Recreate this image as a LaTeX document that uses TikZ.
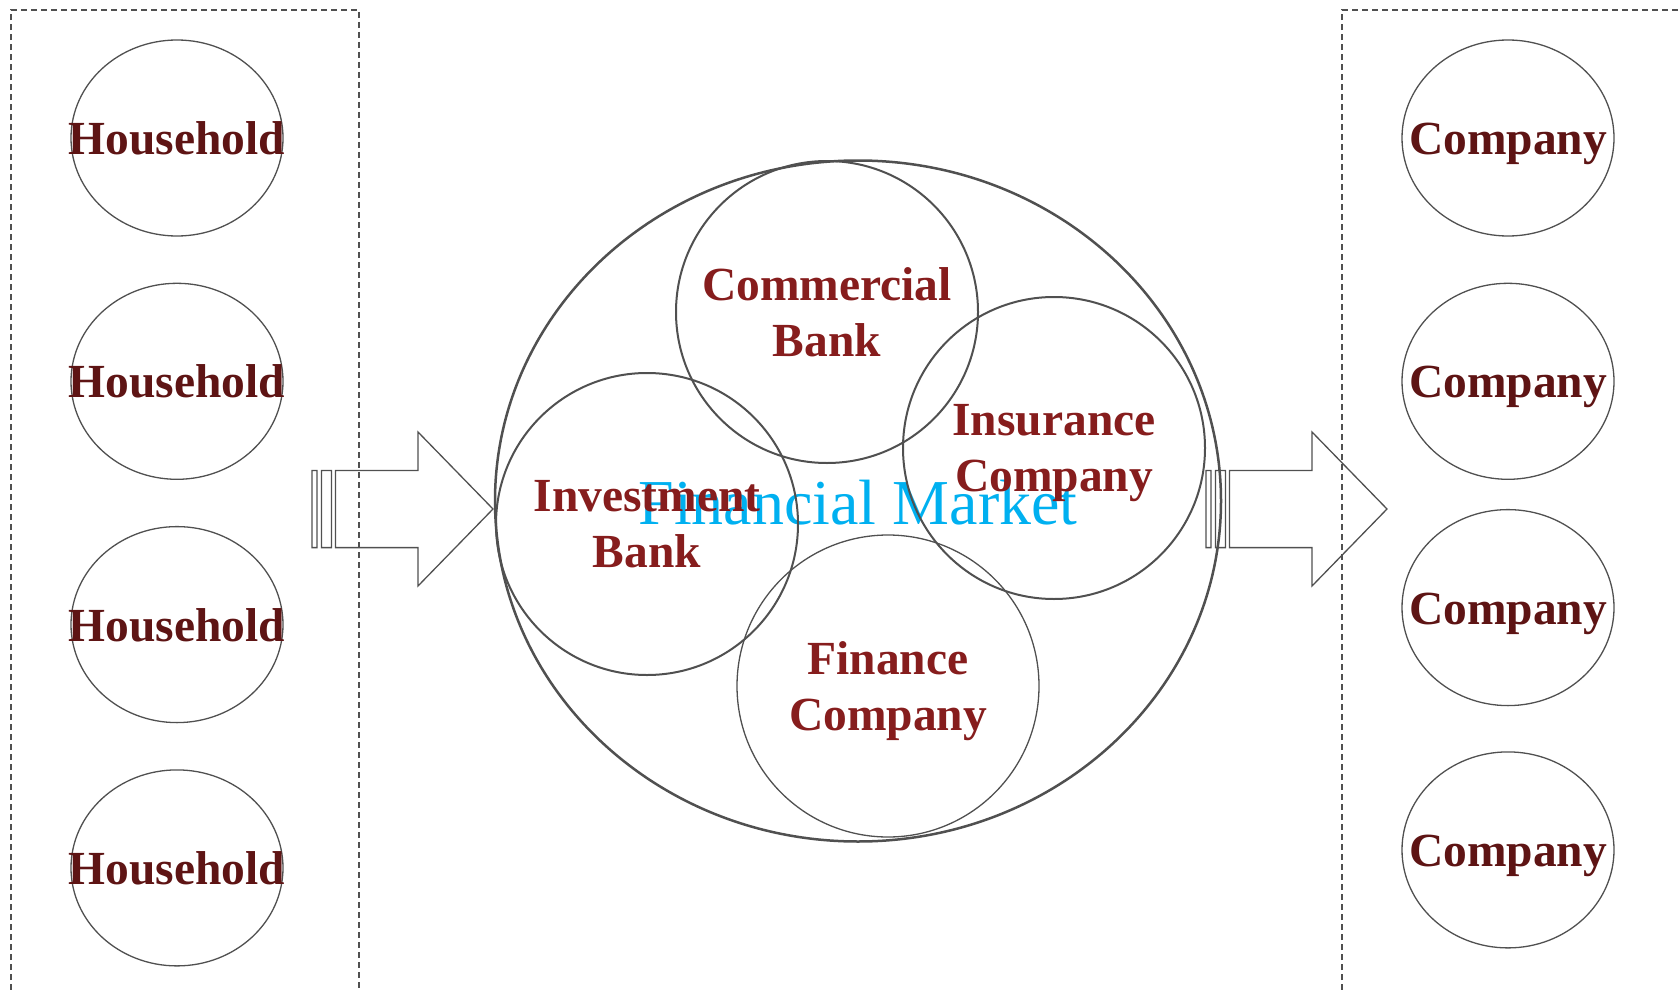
\documentclass[tikz,border=0pt]{standalone}
\usepackage{fontspec}
\setmainfont{Liberation Serif}
\usetikzlibrary{positioning,shapes.geometric}
\definecolor{edge}{HTML}{505050}
\definecolor{agentred}{HTML}{5E1414}
\definecolor{bankred}{HTML}{861D1D}
\definecolor{market}{HTML}{00B0F0}

\begin{document}
\begin{tikzpicture}[x=1pt, y=-1pt,
  party/.style={draw=edge, line width=1.3pt, ellipse, minimum width=212pt, minimum height=196pt, inner sep=0pt},
  partytext/.style={text=agentred, font=\fontsize{47.5}{56}\selectfont\bfseries, text height=33pt, text depth=0pt, inner sep=0pt},
  household/.style={party, label={[partytext]center:Household}},
  company/.style={party, label={[partytext]center:Company}},
  bank/.style={draw=edge, line width=2pt, circle, minimum size=302pt, inner sep=0pt, align=center, text depth=0pt, text=bankred, font=\fontsize{47.5}{56}\selectfont\bfseries},
  group/.style={draw=edge, line width=1.3pt, dash pattern=on 6pt off 4pt},
  blockarrow/.pic={
    \draw[edge, line width=1.3pt] (-181,-38.6) rectangle (-176,38.6) (-171.5,-38.6) rectangle (-161.5,38.6)
      (-157.5,-38.6) -- (-75,-38.6) -- (-75,-77) -- (0,0) -- (-75,77) -- (-75,38.6) -- (-157.5,38.6) -- cycle;
  }]
\useasboundingbox (0,0) rectangle (1679,990);
% lenders and borrowers
\draw[group] (11,990) -- (11,10) -- (359,10) -- (359,990);
\draw[group] (1342,990) -- (1342,10) -- (1679,10);
\node[household] (hh1) at (177,138) {};
\node[household, below=46pt of hh1] (hh2) {};
\node[household, below=46pt of hh2] (hh3) {};
\node[household, below=46pt of hh3] (hh4) {};
\node[company] (co1) at (1508,138) {};
\node[company, below=46pt of co1] (co2) {};
\node[company, below=29pt of co2] (co3) {};
\node[company, below=45pt of co3] (co4) {};
% the market and its institutions
\node[draw=edge, line width=2.5pt, ellipse, minimum width=726pt, minimum height=681pt] (mkt) at (858,501) {};
\node[font=\fontsize{64}{70}\selectfont, text=market, anchor=base] (mktname) at (858,524) {Financial Market};
\node[bank] (cb) at (827,312) {Commercial\\Bank};
\node[bank] (ins) at (1054,448) {Insurance\\Company};
\node[bank] (ib) at (647,524) {Investment\\Bank};
\node[bank, line width=1.3pt] (fc) at (888,686) {Finance\\Company};
% funds flow in and out
\pic at (493,509) {blockarrow};
\pic at (1387,509) {blockarrow};
\end{tikzpicture}
\end{document}
